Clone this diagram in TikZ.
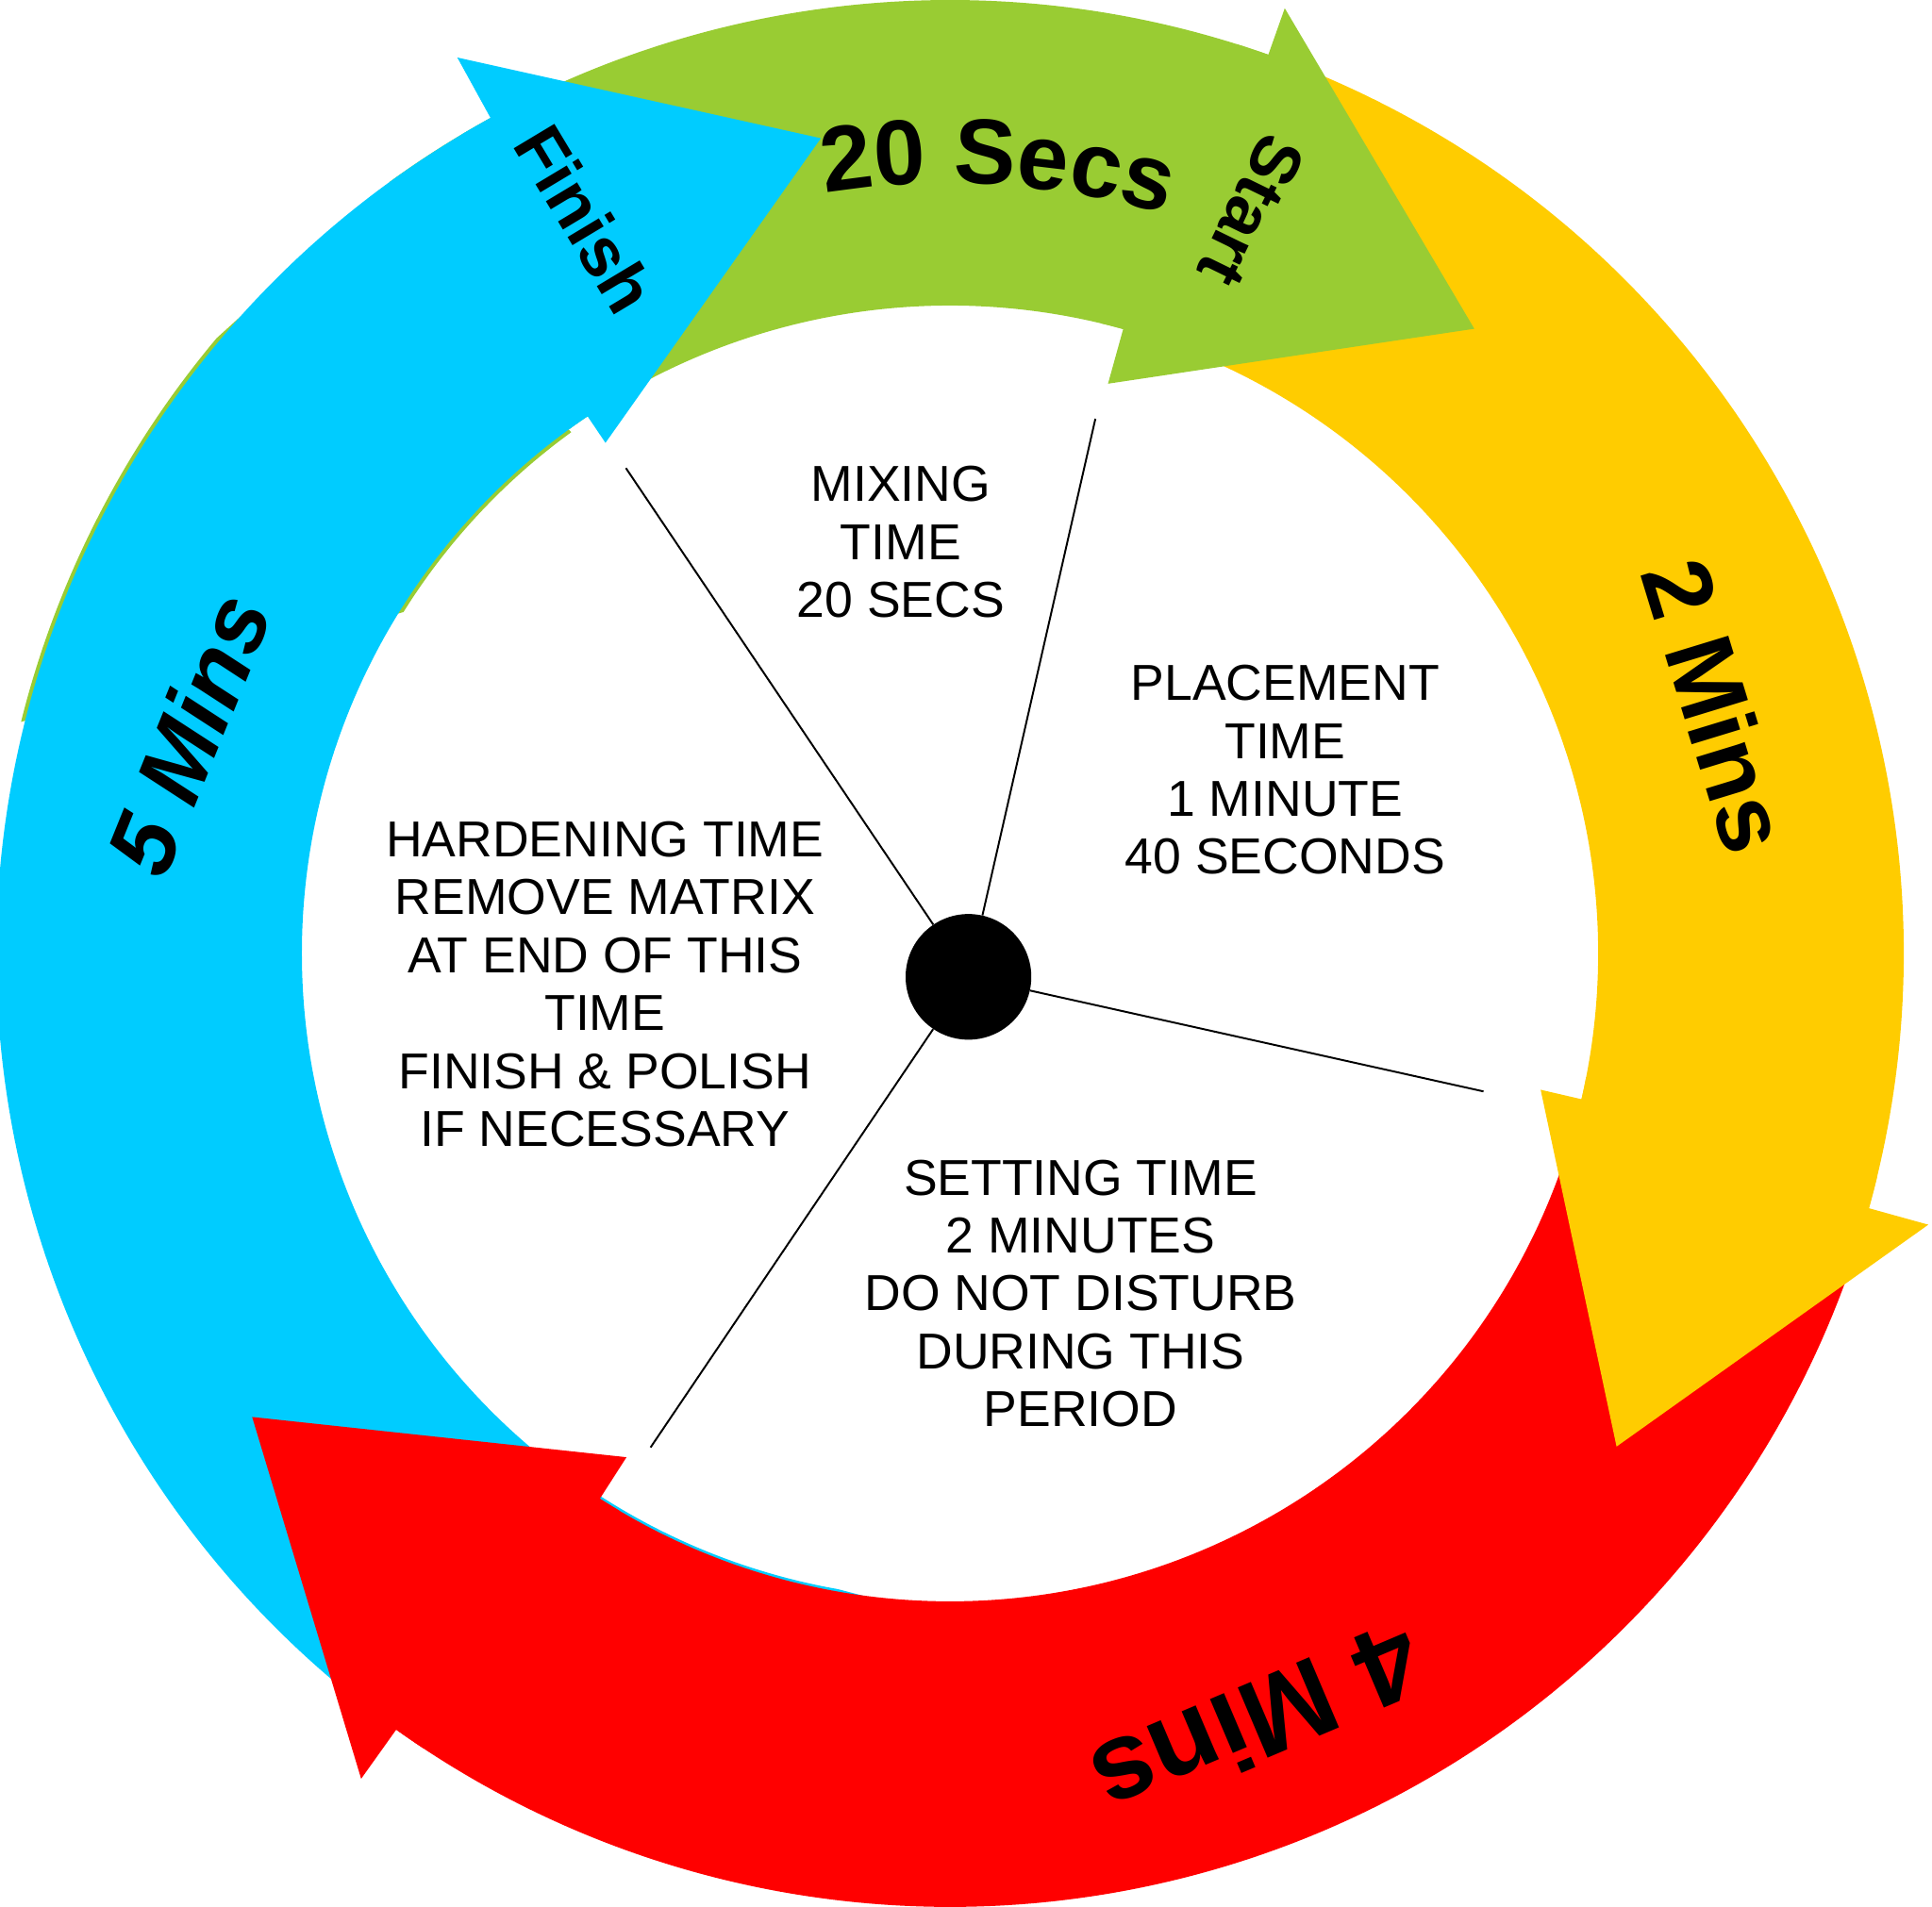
\documentclass[tikz,border=0pt]{standalone}
\usepackage{fontspec}
\setmainfont{Liberation Sans}
\usetikzlibrary{decorations.text}

\definecolor{secsgreen}{HTML}{99CC33}
\definecolor{minsyellow}{HTML}{FFCC00}
\definecolor{minsred}{HTML}{FF0000}
\definecolor{minsblue}{HTML}{00CCFF}

\tikzset{
	phasetext/.style={align=center, inner sep=0pt, font=\fontsize{41}{47}\selectfont},
	ringlabel/.style={inner sep=0pt, font=\bfseries\fontsize{#1}{#1}\selectfont},
	hub/.style={circle, fill=black, minimum size=102, inner sep=0pt},
	spoke/.style={line width=1.5pt}
}

\begin{document}
\begin{tikzpicture}[x=1pt, y=1pt]
		\useasboundingbox (-771,-774) rectangle (797,774);

		% thin slivers of the tails that show beside the next arrow
		\fill[secsgreen] (166:777) arc[start angle=166, end angle=140, radius=777] -- (128:772) -- (126:523) arc[start angle=126, end angle=148, radius=523] -- cycle;
		\fill[minsblue] (237:524) arc[start angle=237, end angle=260, radius=524] -- (263:527) -- (263:540) arc[start angle=263, end angle=237, radius=540] -- cycle;

		% bodies of the four ring arrows
		\fill[secsgreen] (126:774) arc[start angle=126, end angle=70.5, radius=774] -- (74.5:526) arc[start angle=74.5, end angle=126, radius=526] -- cycle;
		\fill[minsyellow] (68:774) arc[start angle=68, end angle=-15.5, radius=774] -- (-13:526) arc[start angle=-13, end angle=68, radius=526] -- cycle;
		\fill[minsred] (-16:774) arc[start angle=-16, end angle=-125.5, radius=774] -- (-122.7:526) arc[start angle=-122.7, end angle=-16, radius=526] -- cycle;
		\fill[minsblue] (233:774) arc[start angle=233, end angle=118.8, radius=774] -- (124:526) arc[start angle=124, end angle=233, radius=526] -- cycle;

		% heads, on top of the next tail
		\fill[secsgreen] (72.5:774) arc[start angle=72.5, end angle=70.5, radius=774] -- (70.5:814) -- (50:662) -- (74.5:480) -- (74.5:526) arc[start angle=74.5, end angle=76.5, radius=526] -- cycle;
		\fill[minsyellow] (-13.5:774) arc[start angle=-13.5, end angle=-15.5, radius=774] -- (-15.5:824) -- (-36.5:673) -- (-13:492) -- (-13:526) arc[start angle=-13, end angle=-11, radius=526] -- cycle;
		\fill[minsred] (-123.5:774) arc[start angle=-123.5, end angle=-125.5, radius=774] -- (-125.5:823) -- (-146.4:680) -- (-122.7:486) -- (-122.7:526) arc[start angle=-122.7, end angle=-120.7, radius=526] -- cycle;
		\fill[minsblue] (120.8:774) arc[start angle=120.8, end angle=118.8, radius=774] -- (118.8:830) -- (99:670) -- (124:500) -- (124:526) arc[start angle=124, end angle=126, radius=526] -- cycle;

		% ring labels
		\path[decorate, decoration={text along path, text align=center,
			text={|\bfseries\fontsize{75}{75}\selectfont|20 Secs}}]
			(112:625) arc[start angle=112, end angle=61, radius=625];
		\draw (245,603) node[ringlabel=56, rotate=244] (start) {Start};
		\draw (-296,596) node[ringlabel=56, rotate=-59] (finish) {Finish};
		\draw (-618,178) node[ringlabel=76, rotate=68] (fivemins) {\itshape 5 Mins};
		\draw (622,201) node[ringlabel=78, rotate=-73] (twomins) {2 Mins};
		\draw (250,-624) node[ringlabel=90, rotate=203] (fourmins) {4 Mins};

		% spokes
		\draw (15,-19) node[hub] (dot) {};
		\coordinate (endA) at (-263,394);
		\coordinate (endB) at (118,434);
		\coordinate (endC) at (433,-112);
		\coordinate (endD) at (-243,-401);
		\draw[spoke] (dot) -- (endA);
		\draw[spoke] (dot) -- (endB);
		\draw[spoke] (dot) -- (endC);
		\draw[spoke] (dot) -- (endD);

		% phase texts
		\draw (-40,334) node[phasetext] (mixing) {MIXING\\TIME\\20 SECS};
		\draw (272,149) node[phasetext] (placement) {PLACEMENT\\TIME\\1 MINUTE\\40 SECONDS};
		\draw (-280,-25) node[phasetext] (hardening) {HARDENING TIME\\REMOVE MATRIX\\AT END OF THIS\\TIME\\FINISH \& POLISH\\IF NECESSARY};
		\draw (106,-276) node[phasetext] (setting) {SETTING TIME\\2 MINUTES\\DO NOT DISTURB\\DURING THIS\\PERIOD};
	\end{tikzpicture}
\end{document}
